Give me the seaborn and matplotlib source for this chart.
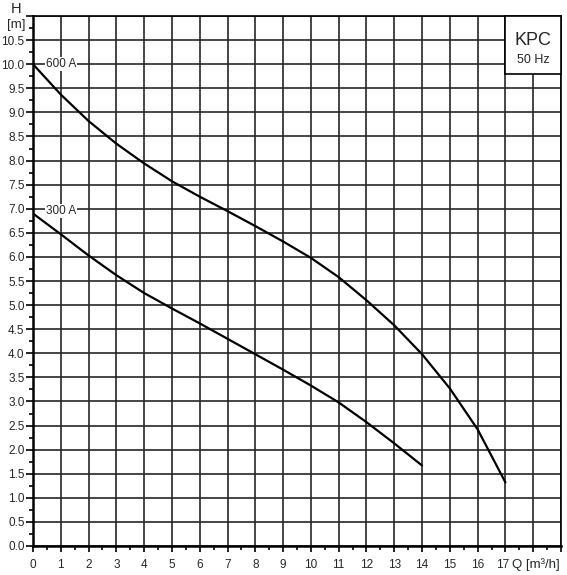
import matplotlib
matplotlib.use("Agg")
import matplotlib.pyplot as plt
import matplotlib.transforms as mtransforms
import seaborn as sns
import pandas as pd
from matplotlib.ticker import MultipleLocator

q_600 = [0, 1, 2, 3, 4, 5, 6, 7, 8, 9, 10, 11, 12, 13, 14, 15, 16, 17]
h_600 = [10.0, 9.37, 8.82, 8.35, 7.94, 7.57, 7.25, 6.95, 6.64, 6.32, 5.98, 5.58, 5.10, 4.58, 3.98, 3.27, 2.42, 1.32]
q_300 = [0, 1, 2, 3, 4, 5, 6, 7, 8, 9, 10, 11, 12, 13, 14]
h_300 = [6.90, 6.47, 6.03, 5.62, 5.25, 4.93, 4.62, 4.30, 3.98, 3.66, 3.33, 2.98, 2.57, 2.13, 1.67]
curve_labels = ["600 A", "300 A"]
x_tick_labels = [str(i) for i in range(18)]
y_tick_values = [i * 0.5 for i in range(22)]

sns.set_theme(style="white")
plt.rcParams['font.family'] = ['Liberation Sans', 'DejaVu Sans']

df = pd.concat([
    pd.DataFrame({"Q": q_600, "H": h_600, "curve": curve_labels[0]}),
    pd.DataFrame({"Q": q_300, "H": h_300, "curve": curve_labels[1]}),
])

fig = plt.figure(figsize=(5.67, 5.75), dpi=100)
ax = fig.add_axes([33/567, 1-546/575, (561-33)/567, (546-16)/575])

sns.lineplot(data=df, x="Q", y="H", units="curve", estimator=None, color="black",
             linewidth=1.6, ax=ax, legend=False, zorder=3)

ax.set_xlim(0, 19)
ax.set_ylim(0, 11)
ax.set_xticks(range(20))
ax.set_xticklabels(x_tick_labels + ["", ""])
ax.xaxis.set_minor_locator(MultipleLocator(0.5))
ax.set_yticks(y_tick_values + [11.0])
ax.set_yticklabels([f"{v:.1f}" for v in y_tick_values] + [""])
ax.yaxis.set_minor_locator(MultipleLocator(0.25))
ax.grid(True, which="major", color="#262626", linewidth=1.2)
ax.tick_params(axis="x", which="major", direction="out", length=4, width=1.2,
               color="black", labelsize=8.5, pad=5, bottom=True)
ax.tick_params(axis="x", which="minor", direction="out", length=3, width=1.2,
               color="black", bottom=True)
ax.tick_params(axis="y", which="major", direction="out", length=5, width=1.2,
               color="black", labelsize=8.5, pad=1, left=True)
ax.tick_params(axis="y", which="minor", direction="out", length=3, width=1.2,
               color="black", left=True)
for side in ["left", "bottom", "top", "right"]:
    ax.spines[side].set_visible(True)
    ax.spines[side].set_color("black")
ax.spines["left"].set_linewidth(1.8)
ax.spines["bottom"].set_linewidth(1.8)
ax.spines["top"].set_linewidth(1.2)
ax.spines["right"].set_linewidth(1.2)
ax.set_xlabel("")
ax.set_ylabel("")

# nudge the "17" label slightly left, as in the reference
lbl17 = ax.get_xticklabels()[17]
lbl17.set_transform(lbl17.get_transform() + mtransforms.ScaledTranslation(-3/100, 0, fig.dpi_scale_trans))

ax.text(0.47, h_600[0], curve_labels[0], fontsize=8.5, va="center", ha="left",
        bbox=dict(facecolor="white", edgecolor="none", pad=0.5), zorder=4)
ax.text(0.47, h_300[0] + 0.05, curve_labels[1], fontsize=8.5, va="center", ha="left",
        bbox=dict(facecolor="white", edgecolor="none", pad=0.5), zorder=4)

fig.text(16/567, 1-9/575, "H", fontsize=10.5, ha="center", va="center")
fig.text(16/567, 1-25/575, "[m]", fontsize=9.5, ha="center", va="center")
fig.text(512/567, 1-565/575, "Q [m³/h]", fontsize=9.5, ha="left", va="center")

# KPC box
ax.add_patch(plt.Rectangle((17, 9.79), 2, 1.21, facecolor="white", edgecolor="black",
                           linewidth=1.2, zorder=5, clip_on=False))
ax.text(18, 10.5, "KPC", fontsize=13, ha="center", va="center", zorder=6)
ax.text(18, 10.09, "50 Hz", fontsize=9, ha="center", va="center", zorder=6)

fig.savefig("out.png", dpi=100, facecolor="white")
